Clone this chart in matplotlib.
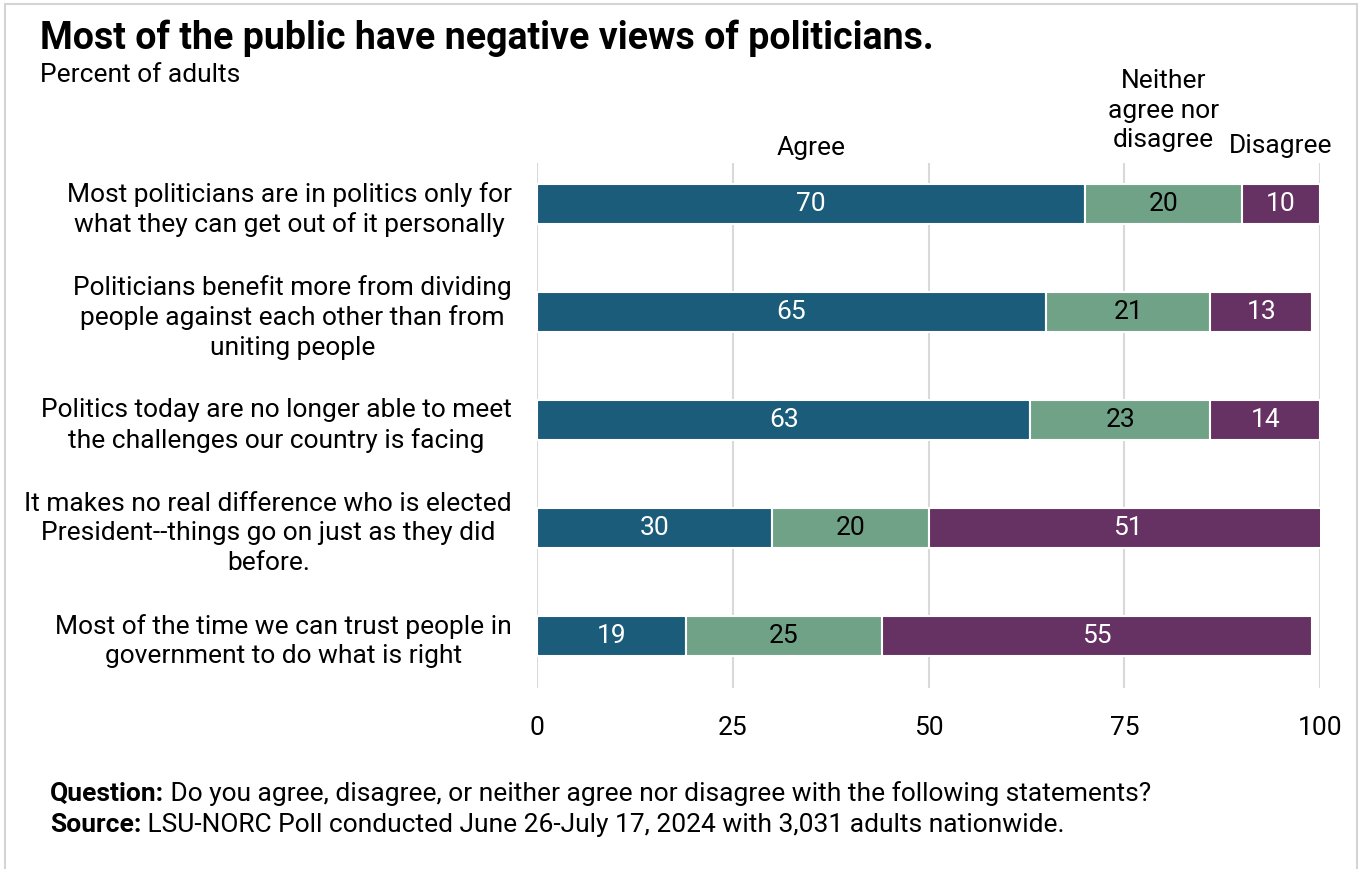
import numpy as np
import matplotlib.pyplot as plt
from matplotlib.patches import Rectangle

plt.rcParams['font.family'] = ['Roboto', 'DejaVu Sans']

# DATA
statements = [
    "Most politicians are in politics only for\nwhat they can get out of it personally",
    "Politicians benefit more from dividing\npeople against each other than from\nuniting people",
    "Politics today are no longer able to meet\nthe challenges our country is facing",
    "It makes no real difference who is elected\nPresident--things go on just as they did\nbefore.",
    "Most of the time we can trust people in\ngovernment to do what is right",
]
agree = [70, 65, 63, 30, 19]
neither = [20, 21, 23, 20, 25]
disagree = [10, 13, 14, 51, 55]
series_names = ["Agree", "Neither\nagree nor\ndisagree", "Disagree"]
colors = ["#1a5c7a", "#70a287", "#663163"]
text_colors = ["white", "black", "white"]
xticks = [0, 25, 50, 75, 100]

fig = plt.figure(figsize=(13.62, 8.69), dpi=100)
ax = fig.add_axes([0.3943, 0.2083, 0.5749, 0.6041])

y = np.arange(len(statements))
left = np.zeros(len(statements))
for vals, col, tcol in zip([agree, neither, disagree], colors, text_colors):
    vals = np.array(vals)
    bars = ax.barh(y, vals, left=left, height=0.37, color=col,
                   edgecolor="white", linewidth=1.5, zorder=3)
    for b, v in zip(bars, vals):
        ax.text(b.get_x() + b.get_width() / 2, b.get_y() + b.get_height() / 2,
                str(v), ha="center", va="center", color=tcol, fontsize=19, zorder=4)
    left = left + vals

# series headers over the first bar's segments
starts = [0, agree[0], agree[0] + neither[0]]
widths = [agree[0], neither[0], disagree[0]]
header_y = [-0.41, -0.48, -0.43]
for name, s, w, hy in zip(series_names, starts, widths, header_y):
    ax.text(s + w / 2, hy, name, ha="center", va="bottom", fontsize=19,
            linespacing=1.3)

ax.set_xlim(0, 100)
ax.set_ylim(4.48, -0.38)
ax.set_xticks(xticks)
ax.set_xticklabels([str(t) for t in xticks], fontsize=19)
ax.set_yticks(y)
ax.set_yticklabels(statements, fontsize=19, multialignment="center", linespacing=1.28)
ax.tick_params(axis="both", length=0)
ax.tick_params(axis="x", pad=20)
ax.tick_params(axis="y", pad=18)
for sp in ax.spines.values():
    sp.set_visible(False)
ax.grid(axis="x", color="#d9d9d9", linewidth=1.5, zorder=0)
ax.set_axisbelow(True)

# title and subtitle
fig.text(40 / 1362, 1 - 38 / 869, "Most of the public have negative views of politicians.",
         fontsize=27, fontweight="bold", va="center", ha="left")
fig.text(40 / 1362, 1 - 75 / 869, "Percent of adults", fontsize=19, va="center", ha="left")

# footer notes
renderer = fig.canvas.get_renderer()
notes = [("Question:", " Do you agree, disagree, or neither agree nor disagree with the following statements?", 794),
         ("Source:", " LSU-NORC Poll conducted June 26-July 17, 2024 with 3,031 adults nationwide.", 825)]
for head, body, ypx in notes:
    t = fig.text(50 / 1362, 1 - ypx / 869, head, fontsize=19, fontweight="bold",
                 va="center", ha="left")
    bb = t.get_window_extent(renderer=renderer)
    fig.text(bb.x1 / fig.bbox.width, 1 - ypx / 869, body, fontsize=19,
             va="center", ha="left")

# light frame around the figure
fig.patches.append(Rectangle((5 / 1362, -0.01), 1352 / 1362, 1 - 4 / 869 + 0.01,
                             transform=fig.transFigure, fill=False,
                             edgecolor="#d4d4d4", linewidth=1.5))

fig.savefig("out.png", dpi=100)
